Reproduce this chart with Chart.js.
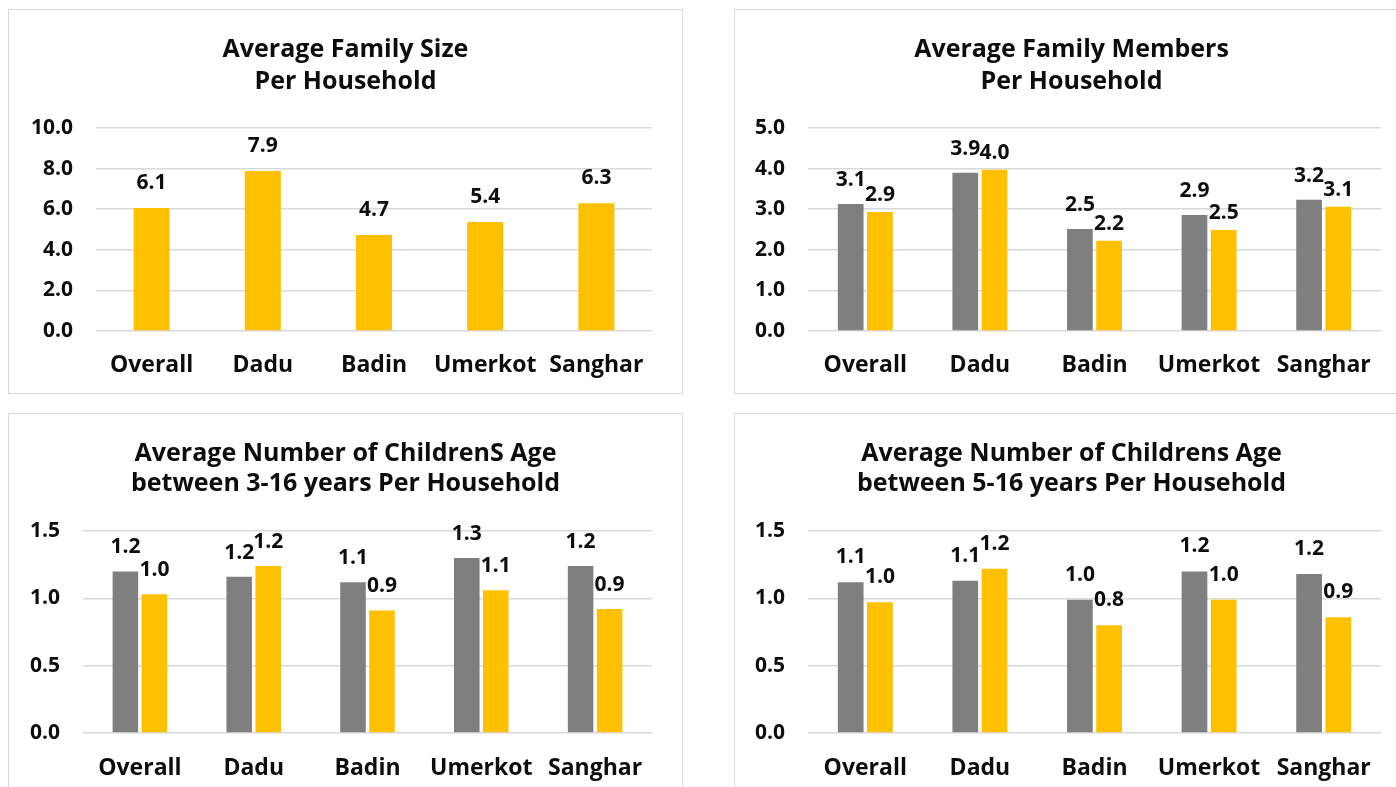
<!DOCTYPE html>
<html>
<head>
<meta charset="utf-8">
<title>Household averages</title>
<script src="https://cdn.jsdelivr.net/npm/chart.js@4.4.1/dist/chart.umd.min.js"></script>
<style>
  body { margin: 0; background: #fff; width: 1396px; height: 787px; overflow: hidden; position: relative; }
  .panel { position: absolute; border: 1px solid #d9d9d9; box-sizing: border-box; width: 675px; height: 385px; }
  .panel canvas { display: block; }
</style>
</head>
<body>
<div class="panel" style="left:8px;top:9px"><canvas id="c1" width="673" height="383"></canvas></div>
<div class="panel" style="left:734px;top:9px"><canvas id="c2" width="673" height="383"></canvas></div>
<div class="panel" style="left:8px;top:413px"><canvas id="c3" width="673" height="383"></canvas></div>
<div class="panel" style="left:734px;top:413px"><canvas id="c4" width="673" height="383"></canvas></div>
<script>
// ── Data ──────────────────────────────────────────────────────
const districts = ['Overall', 'Dadu', 'Badin', 'Umerkot', 'Sanghar'];

const familySize = [6.06, 7.88, 4.73, 5.37, 6.29];

const membersGrey   = [3.13, 3.90, 2.51, 2.86, 3.23];
const membersYellow = [2.93, 3.97, 2.22, 2.49, 3.06];

const kids3to16Grey   = [1.20, 1.16, 1.12, 1.30, 1.24];
const kids3to16Yellow = [1.03, 1.24, 0.91, 1.06, 0.92];

const kids5to16Grey   = [1.12, 1.13, 0.99, 1.20, 1.18];
const kids5to16Yellow = [0.97, 1.22, 0.80, 0.99, 0.86];

const ticksFamily  = [0, 2, 4, 6, 8, 10];
const ticksMembers = [0, 1, 2, 3, 4, 5];
const ticksKids    = [0, 0.5, 1, 1.5];

// ── Style ─────────────────────────────────────────────────────
const GREY   = '#7f7f7f';
const YELLOW = '#ffc000';
const GRID   = '#d9d9d9';
const INK    = '#0d0d0d';
const FONT   = '"Open Sans"';

// value labels above each bar
const valueLabels = {
    id: 'valueLabels',
    afterDatasetsDraw(chart, args, opts) {
        const ctx = chart.ctx;
        ctx.save();
        ctx.font = `bold ${opts.size}px ${FONT}`;
        ctx.fillStyle = INK;
        ctx.textAlign = 'center';
        ctx.textBaseline = 'middle';
        chart.data.datasets.forEach((ds, i) => {
            const meta = chart.getDatasetMeta(i);
            meta.data.forEach((bar, j) => {
                ctx.fillText(ds.data[j].toFixed(1), bar.x, bar.y - opts.lift[i]);
            });
        });
        ctx.restore();
    }
};

function makeChart(id, titleLines, series, ticks, box) {
    const max = ticks[ticks.length - 1];
    const step = ticks[1] - ticks[0];
    const grouped = series.length > 1;

    return new Chart(document.getElementById(id), {
        type: 'bar',
        data: {
            labels: districts,
            datasets: series.map(s => ({
                label: s.name,
                data: s.data,
                backgroundColor: s.color,
                categoryPercentage: grouped ? 0.51 : 0.54,
                barPercentage: grouped ? 0.88 : 0.6,
            }))
        },
        options: {
            responsive: false,
            animation: false,
            layout: { padding: 0 },
            plugins: {
                legend: { display: false },
                tooltip: { enabled: false },
                title: {
                    display: true,
                    text: titleLines,
                    color: INK,
                    font: { family: FONT, size: 25, weight: 'bold', lineHeight: box.titleLH / 25 },
                    padding: { top: box.titleTop, bottom: box.titleBottom }
                },
                valueLabels: { size: 21, lift: box.lift }
            },
            scales: {
                x: {
                    grid: { display: false, drawTicks: false },
                    border: { display: false },
                    ticks: { color: INK, padding: box.xPad, font: { family: FONT, size: 23, weight: 'bold' } },
                    afterFit: s => { s.height = box.xHeight; }
                },
                y: {
                    min: 0,
                    max: max,
                    grid: { color: GRID, lineWidth: 1.5, drawTicks: false },
                    border: { display: false },
                    ticks: {
                        stepSize: step,
                        color: INK,
                        padding: 23,
                        font: { family: FONT, size: 21, weight: 'bold' },
                        callback: v => v.toFixed(1)
                    },
                    afterFit: s => { s.width = box.left; }
                },
                // empty right-hand strip so the title stays centred on the panel
                pad: {
                    type: 'linear',
                    position: 'right',
                    grid: { display: false, drawTicks: false },
                    border: { display: false },
                    ticks: { display: false },
                    afterFit: s => { s.width = box.right; }
                }
            }
        },
        plugins: [valueLabels]
    });
}

// ── Charts ────────────────────────────────────────────────────
const topBox    = { left: 87, right: 30, titleTop: 24, titleLH: 32, titleBottom: 30, xPad: 21, xHeight: 62 };
const bottomBox = { left: 74, right: 30, titleTop: 25, titleLH: 30, titleBottom: 32, xPad: 22, xHeight: 64 };

makeChart('c1', ['Average Family Size', 'Per Household'],
    [{ name: 'Family size', data: familySize, color: YELLOW }],
    ticksFamily, { ...topBox, lift: [25] });

makeChart('c2', ['Average Family Members', 'Per Household'],
    [{ name: 'Series 1', data: membersGrey, color: GREY },
     { name: 'Series 2', data: membersYellow, color: YELLOW }],
    ticksMembers, { ...topBox, left: 73, right: 27, lift: [24, 17] });

makeChart('c3', ['Average Number of ChildrenS Age', 'between 3-16 years Per Household'],
    [{ name: 'Series 1', data: kids3to16Grey, color: GREY },
     { name: 'Series 2', data: kids3to16Yellow, color: YELLOW }],
    ticksKids, { ...bottomBox, lift: [24, 24] });

makeChart('c4', ['Average Number of Childrens Age', 'between 5-16 years Per Household'],
    [{ name: 'Series 1', data: kids5to16Grey, color: GREY },
     { name: 'Series 2', data: kids5to16Yellow, color: YELLOW }],
    ticksKids, { ...bottomBox, left: 73, right: 27, lift: [25, 25] });
</script>
</body>
</html>
